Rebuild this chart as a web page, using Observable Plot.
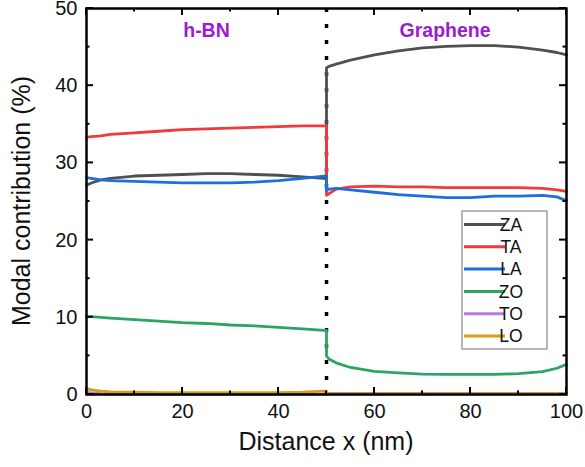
<!DOCTYPE html>
<html><head><meta charset="utf-8">
<script src="https://cdn.jsdelivr.net/npm/d3@7"></script>
<script src="https://cdn.jsdelivr.net/npm/@observablehq/plot@0.6"></script>
<style>html,body{margin:0;padding:0;background:#fff}</style>
</head><body><div id="chart"></div>
<script>
const modes = ["ZA", "TA", "LA", "ZO", "TO", "LO"];
const modeColors = ["#505050", "#f23a3c", "#1c6fdc", "#2aa565", "#b47ce8", "#d39e12"];
const xs = [0, 1, 3, 5, 10, 15, 20, 25, 30, 35, 40, 45, 49.5, 50, 50, 50.5, 52, 55, 60, 65, 70, 75, 80, 85, 90, 95, 98, 100];
const ZA = [27.1, 27.4, 27.8, 28.0, 28.3, 28.4, 28.5, 28.6, 28.6, 28.5, 28.4, 28.2, 28.0, 27.9, 42.3, 42.5, 42.8, 43.3, 44.0, 44.5, 44.9, 45.1, 45.2, 45.2, 45.0, 44.6, 44.3, 44.0];
const TA = [33.3, 33.4, 33.5, 33.7, 33.9, 34.1, 34.3, 34.4, 34.5, 34.6, 34.7, 34.8, 34.8, 34.8, 25.8, 26.0, 26.6, 26.9, 27.0, 26.9, 26.9, 26.8, 26.8, 26.8, 26.8, 26.7, 26.5, 26.3];
const LA = [28.1, 28.0, 27.8, 27.7, 27.6, 27.5, 27.4, 27.4, 27.4, 27.5, 27.7, 28.0, 28.3, 28.3, 26.4, 26.6, 26.7, 26.5, 26.2, 25.9, 25.7, 25.5, 25.5, 25.7, 25.7, 25.8, 25.6, 25.1];
const ZO = [10.1, 10.1, 10.0, 9.9, 9.7, 9.5, 9.3, 9.2, 9.0, 8.9, 8.7, 8.5, 8.3, 8.3, 5.0, 4.6, 4.1, 3.5, 3.0, 2.8, 2.65, 2.6, 2.6, 2.6, 2.7, 2.95, 3.4, 3.9];
const TO = [0.3, 0.2, 0.1, 0.05, 0.05, 0.05, 0.05, 0.05, 0.05, 0.05, 0.05, 0.05, 0.05, 0.05, 0.2, 0.15, 0.15, 0.15, 0.15, 0.15, 0.15, 0.15, 0.15, 0.15, 0.15, 0.15, 0.15, 0.15];
const LO = [0.8, 0.6, 0.45, 0.35, 0.3, 0.25, 0.25, 0.25, 0.25, 0.25, 0.25, 0.3, 0.45, 0.45, 0.1, 0.1, 0.1, 0.1, 0.1, 0.1, 0.1, 0.1, 0.1, 0.1, 0.1, 0.1, 0.1, 0.1];
const xTicks = [0, 20, 40, 60, 80, 100];
const yTicks = [0, 10, 20, 30, 40, 50];
const regionLabels = ["h-BN", "Graphene"];
const regionX = [25, 74.7];
const regionY = [47.15, 47.15];
const interfaceX = [50];
const xTitle = "Distance x (nm)";
const yTitle = "Modal contribution (%)";

const series = [ZA, TA, LA, ZO, TO, LO];
const rows = [];
modes.forEach((m, i) => series[i].forEach((v, j) => rows.push({mode: m, x: xs[j], v})));
const regions = regionLabels.map((t, i) => ({t, x: regionX[i], y: regionY[i]}));

const font = "'Liberation Sans', Arial, sans-serif";
const chart = Plot.plot({
  width: 585, height: 467,
  marginLeft: 86, marginRight: 19, marginTop: 8, marginBottom: 73,
  style: {fontFamily: font, fontSize: "20px", color: "#111", background: "white", overflow: "visible"},
  x: {domain: [0, 100]},
  y: {domain: [0, 50]},
  color: {domain: modes, range: modeColors},
  marks: [
    Plot.axisX({ticks: xTicks, tickSize: 0, tickPadding: 9, label: null, fontSize: 20}),
    Plot.axisY({ticks: yTicks, tickSize: 0, tickPadding: 9, label: null, fontSize: 20}),
    Plot.ruleX(interfaceX, {stroke: "black", strokeWidth: 3.5, strokeDasharray: "4,12"}),
    Plot.line(rows, {x: "x", y: "v", z: "mode", stroke: "mode", strokeWidth: 2.8}),
    Plot.text(regions, {x: "x", y: "y", text: "t", fill: "#9b1bd0", fontWeight: "bold", fontSize: 19.5}),
    Plot.frame({stroke: "black", strokeWidth: 2.5})
  ]
});
document.getElementById("chart").append(chart);

const sx = chart.scale("x"), sy = chart.scale("y");
const svg = d3.select(chart);
const x0 = sx.apply(0), x1 = sx.apply(100), y0 = sy.apply(0), y1 = sy.apply(50);
const g = svg.append("g").attr("stroke", "black").attr("stroke-width", 2);
d3.range(0, 51, 5).forEach(v => {
  const len = v % 10 === 0 ? 7 : 3.5, y = sy.apply(v);
  g.append("line").attr("x1", x0).attr("x2", x0 + len).attr("y1", y).attr("y2", y);
  g.append("line").attr("x1", x1).attr("x2", x1 - len).attr("y1", y).attr("y2", y);
});
d3.range(0, 101, 10).forEach(v => {
  const len = v % 20 === 0 ? 7 : 3.5, x = sx.apply(v);
  g.append("line").attr("x1", x).attr("x2", x).attr("y1", y0).attr("y2", y0 - len);
  g.append("line").attr("x1", x).attr("x2", x).attr("y1", y1).attr("y2", y1 + len);
});
svg.append("text").attr("x", (x0 + x1) / 2).attr("y", 450).attr("text-anchor", "middle")
  .attr("font-size", 25).attr("font-family", font).attr("fill", "#111").text(xTitle);
svg.append("text").attr("transform", `translate(30,${(y0 + y1) / 2}) rotate(-90)`).attr("text-anchor", "middle")
  .attr("font-size", 25).attr("font-family", font).attr("fill", "#111").text(yTitle);

// legend
const lg = svg.append("g");
lg.append("rect").attr("x", 462).attr("y", 211).attr("width", 85).attr("height", 138)
  .attr("fill", "white").attr("stroke", "#888").attr("stroke-width", 1.2);
modes.forEach((m, i) => {
  const y = 224.5 + i * 22.3;
  lg.append("line").attr("x1", 464).attr("x2", 505).attr("y1", y).attr("y2", y)
    .attr("stroke", modeColors[i]).attr("stroke-width", 3);
  lg.append("text").attr("x", 511).attr("y", y).attr("dy", "0.36em").attr("font-size", 17.5)
    .attr("font-family", font).attr("fill", "#111").text(m);
});
</script>
</body></html>
